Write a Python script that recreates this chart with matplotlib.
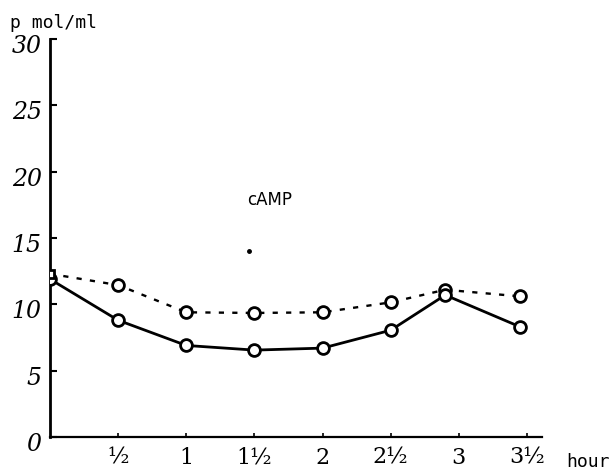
import numpy as np
import matplotlib.pyplot as plt
import matplotlib.transforms as mtransforms

# время, часы
hours = [0, 0.5, 1, 1.5, 2, 2.5, 2.9, 3.45]
# пунктирная кривая
dotted = [12.3, 11.45, 9.4, 9.35, 9.4, 10.15, 11.1, 10.6]
# сплошная кривая
solid = [11.9, 8.8, 6.9, 6.55, 6.7, 8.05, 10.7, 8.3]

y_ticks = [0, 5, 10, 15, 20, 25, 30]
x_ticks = [0.5, 1, 1.5, 2, 2.5, 3, 3.5]
x_labels = ['½', '1', '1½', '2', '2½', '3', '3½']

dot_x = [1.46]
dot_y = [14.0]

fig = plt.figure(figsize=(6.13, 4.76), dpi=100)
ax = fig.add_axes([50 / 613, 39 / 476, (542 - 50) / 613, (437 - 39) / 476])

ax.plot(hours, dotted, color='black', lw=1.7, linestyle=(0, (2.2, 3.5)),
        marker='o', markersize=8.5, markerfacecolor='white', markeredgewidth=2,
        markevery=list(range(1, len(hours))), zorder=3)
ax.plot(hours[:1], dotted[:1], 's', color='black', markersize=6,
        markerfacecolor='white', markeredgewidth=2, zorder=4)
ax.plot(hours, solid, color='black', lw=2, marker='o', markersize=8.5,
        markerfacecolor='white', markeredgewidth=2, zorder=3)
ax.plot(dot_x, dot_y, 'o', color='black', markersize=2.5)

ax.text(1.61, 17.9, 'cAMP', fontsize=12, family='DejaVu Sans',
        ha='center', va='center')

ax.set_xlim(0, 3.61)
ax.set_ylim(0, 30)
for side in ['top', 'right']:
    ax.spines[side].set_visible(False)
ax.spines['left'].set_linewidth(2)
ax.spines['bottom'].set_linewidth(1.6)

ax.set_yticks(y_ticks)
ax.set_yticklabels([str(v) for v in y_ticks], family='DejaVu Serif',
                   fontsize=17, fontstyle='italic')
ax.set_xticks(x_ticks)
ax.set_xticklabels(x_labels, family='DejaVu Serif', fontsize=16)
ax.tick_params(axis='y', direction='in', length=5, width=1.5, pad=6)
ax.tick_params(axis='x', direction='in', length=3, width=1.2, pad=7)

# подписи шкалы y чуть ниже засечек
shift = mtransforms.ScaledTranslation(0, -5 / 100, fig.dpi_scale_trans)
for lab in ax.get_yticklabels():
    lab.set_transform(lab.get_transform() + shift)

fig.text(10 / 613, 1 - 23 / 476, 'p mol/ml', family='DejaVu Sans Mono',
         fontsize=13, ha='left', va='center')
fig.text(566 / 613, 1 - 462 / 476, 'hour', family='DejaVu Sans Mono',
         fontsize=13, ha='left', va='center')

fig.savefig('out.png', dpi=100)
